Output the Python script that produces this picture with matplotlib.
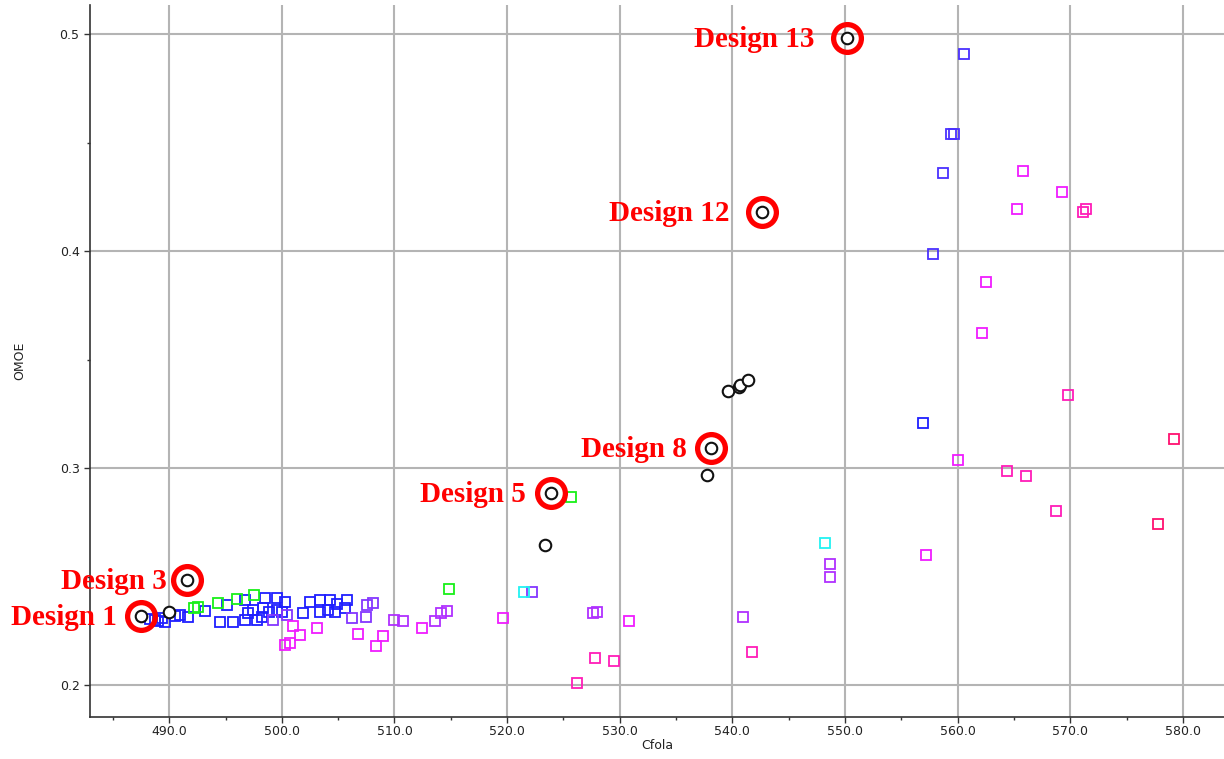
import matplotlib
matplotlib.use("Agg")
import matplotlib.pyplot as plt
from matplotlib.ticker import MultipleLocator, FormatStrFormatter

# ---- data -------------------------------------------------------------
blue_x = [488.3, 488.7, 489.4, 489.6, 491.0, 491.7, 493.2, 495.1, 496.7, 498.5,
          499.6, 500.3, 494.5, 495.7, 496.7, 497.0, 497.4, 498.3, 498.2, 497.8,
          498.9, 499.6, 500.0, 502.5, 503.4, 504.3, 504.9, 505.8, 501.9, 503.4,
          504.1, 504.7, 505.6, 489.0, 490.5, 556.9]
blue_y = [0.2304, 0.2300, 0.2309, 0.2290, 0.2323, 0.2313, 0.2341, 0.2369, 0.2392, 0.2401,
          0.2401, 0.2382, 0.2290, 0.2290, 0.2300, 0.2332, 0.2346, 0.2355, 0.2313, 0.2300,
          0.2336, 0.2346, 0.2336, 0.2382, 0.2392, 0.2392, 0.2373, 0.2392, 0.2332, 0.2336,
          0.2346, 0.2336, 0.2355, 0.2295, 0.2318, 0.3207]

indigo_x = [557.8, 558.7, 559.4, 559.7, 560.6]
indigo_y = [0.3986, 0.4359, 0.4539, 0.4539, 0.4908]

violet_x = [506.2, 507.5, 507.6, 508.1, 500.5, 499.2, 522.2]
violet_y = [0.2309, 0.2313, 0.2369, 0.2378, 0.2323, 0.2300, 0.2429]

purple_x = [510.0, 510.8, 513.6, 514.1, 514.7, 527.6, 528.0, 540.9, 548.7, 548.7]
purple_y = [0.2300, 0.2295, 0.2295, 0.2332, 0.2341, 0.2332, 0.2336, 0.2313, 0.2558, 0.2498]

magenta_x = [501.0, 501.6, 500.7, 500.3, 503.1, 506.8, 509.0, 508.4, 512.4, 519.6,
             530.8, 557.2, 560.0, 562.2, 562.5, 565.8, 565.3, 569.3]
magenta_y = [0.2272, 0.2230, 0.2194, 0.2184, 0.2263, 0.2235, 0.2226, 0.2180, 0.2263, 0.2309,
             0.2295, 0.2599, 0.3037, 0.3622, 0.3857, 0.4369, 0.4194, 0.4272]

pink_x = [527.8, 529.5, 526.2, 541.7, 564.4, 566.1, 568.7, 569.8, 571.1, 571.4]
pink_y = [0.2124, 0.2111, 0.2009, 0.2152, 0.2986, 0.2963, 0.2802, 0.3336, 0.4180, 0.4194]

crimson_x = [577.8, 579.2]
crimson_y = [0.2742, 0.3134]

green_x = [492.2, 492.6, 494.3, 496.0, 497.5, 514.8, 525.7]
green_y = [0.2355, 0.2359, 0.2378, 0.2396, 0.2415, 0.2442, 0.2866]

cyan_x = [521.5, 548.2]
cyan_y = [0.2429, 0.2654]

# designs on the front (black circles)
front_x = [487.5, 490.0, 491.6, 523.4, 523.9, 537.7, 538.1, 539.6, 540.6, 540.7, 541.4, 542.6, 550.2]
front_y = [0.2318, 0.2336, 0.2484, 0.2645, 0.2885, 0.2968, 0.3092, 0.3355, 0.3373, 0.3382, 0.3406, 0.4180, 0.4982]

# highlighted designs: label and index into the front arrays
design_labels = ["Design 1", "Design 3", "Design 5", "Design 8", "Design 12", "Design 13"]
design_index = [0, 2, 4, 6, 11, 12]

x_ticks = [490, 500, 510, 520, 530, 540, 550, 560, 570, 580]
y_ticks = [0.2, 0.3, 0.4, 0.5]

# ---- styling ----------------------------------------------------------
label_offsets = [(-24, -9), (-20, -9), (-25, -9), (-24, -9), (-32, -9), (-33, -9)]

groups = [
    (blue_x, blue_y, "#1f1fff"),
    (indigo_x, indigo_y, "#4a30ff"),
    (violet_x, violet_y, "#8436ff"),
    (purple_x, purple_y, "#b030ff"),
    (magenta_x, magenta_y, "#f01cff"),
    (pink_x, pink_y, "#ff1cb8"),
    (crimson_x, crimson_y, "#ff1070"),
    (green_x, green_y, "#18f018"),
    (cyan_x, cyan_y, "#22f2f2"),
]

fig = plt.figure(figsize=(12.24, 7.59), dpi=100)
ax = fig.add_axes([90 / 1224, 42.3 / 759, 1 - 90 / 1224, (716.7 - 5) / 759])

for gx, gy, col in groups:
    ax.plot(gx, gy, linestyle="none", marker="s", markersize=7.4,
            markerfacecolor="none", markeredgecolor=col, markeredgewidth=1.3,
            zorder=3)

ax.plot(front_x, front_y, linestyle="none", marker="o", markersize=8.3,
        markerfacecolor="white", markeredgecolor="#111111", markeredgewidth=1.5, zorder=4)

hx = [front_x[i] for i in design_index]
hy = [front_y[i] for i in design_index]
ax.plot(hx, hy, linestyle="none", marker="o", markersize=20,
        markerfacecolor="none", markeredgecolor="#ff0000", markeredgewidth=3.8, zorder=5)

for lab, x, y, off in zip(design_labels, hx, hy, label_offsets):
    ax.annotate(lab, xy=(x, y), xytext=off, textcoords="offset pixels",
                ha="right", va="baseline", color="#ff0000", fontsize=21,
                fontweight="bold", family="Liberation Serif", zorder=6)

ax.set_xlim(482.97, 583.64)
ax.set_ylim(0.1854, 0.5134)

ax.set_xticks(x_ticks)
ax.set_yticks(y_ticks)
ax.xaxis.set_major_formatter(FormatStrFormatter("%.1f"))
ax.yaxis.set_major_formatter(FormatStrFormatter("%.1f"))
ax.xaxis.set_minor_locator(MultipleLocator(5))
ax.yaxis.set_minor_locator(MultipleLocator(0.05))

ax.tick_params(axis="both", which="major", length=4, width=1, color="#333333",
               labelsize=9, labelcolor="#222222")
ax.tick_params(axis="both", which="minor", length=2, width=1, color="#333333")
ax.tick_params(axis="x", which="major", pad=2)

ax.grid(True, which="major", color="#b4b4b4", linewidth=1.5, zorder=0)
ax.set_axisbelow(True)

for side in ("top", "right"):
    ax.spines[side].set_visible(False)
for side in ("left", "bottom"):
    ax.spines[side].set_color("#333333")
    ax.spines[side].set_linewidth(1.2)

ax.set_xlabel("Cfola", fontsize=9, color="#222222", labelpad=1)
ax.set_ylabel("OMOE", fontsize=9, color="#222222", labelpad=24)

fig.savefig("out.png", dpi=100)
